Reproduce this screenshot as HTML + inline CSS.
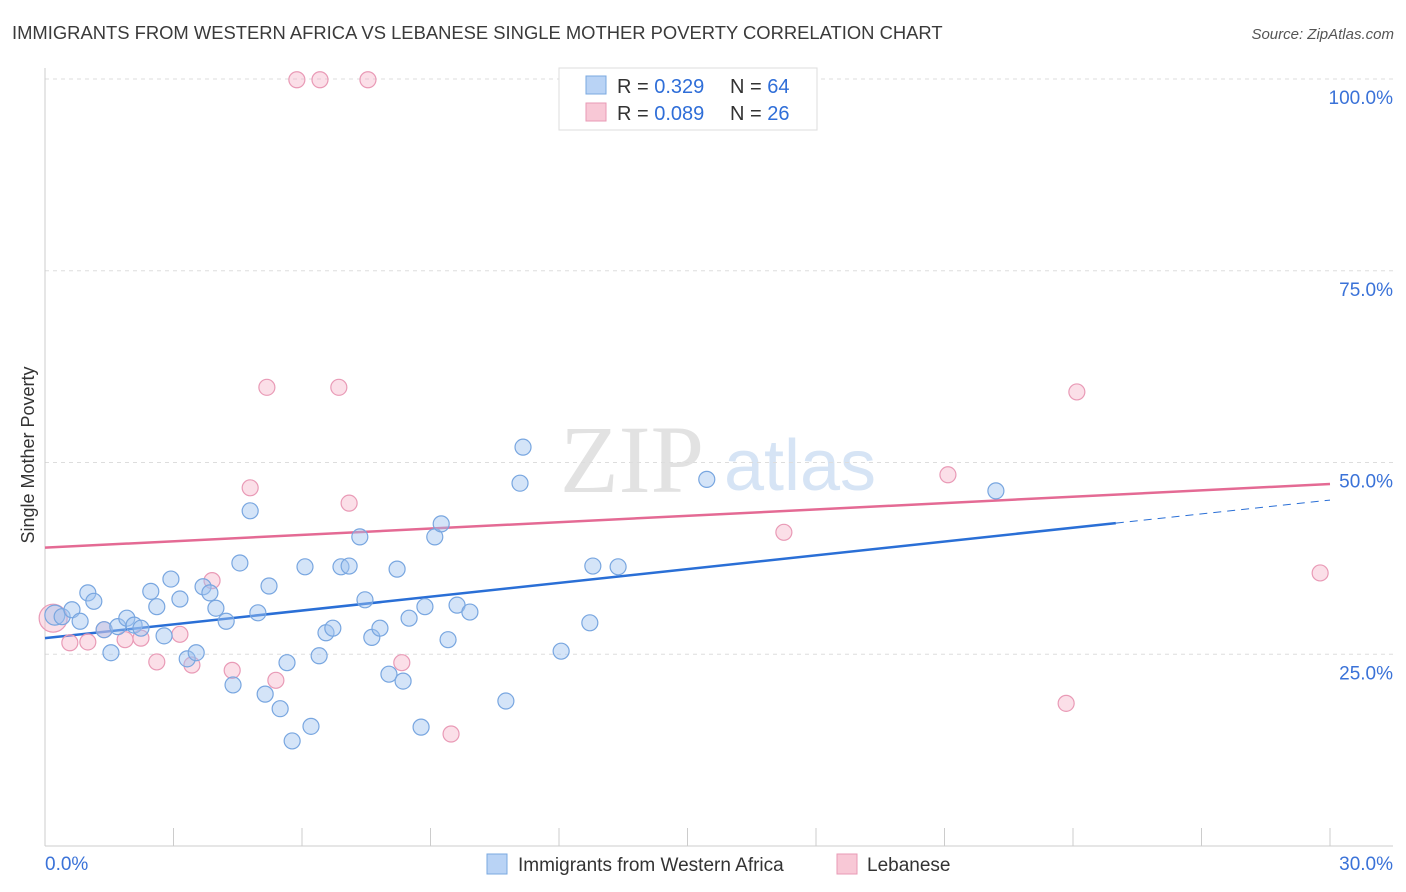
<!DOCTYPE html>
<html><head><meta charset="utf-8">
<style>
body{margin:0;background:#fff;font-family:"Liberation Sans",sans-serif;}
svg{display:block}
</style></head>
<body>
<svg id="chart" width="1406" height="892">
<text x="12" y="39" font-size="18.4" fill="#3a3a3a">IMMIGRANTS FROM WESTERN AFRICA VS LEBANESE SINGLE MOTHER POVERTY CORRELATION CHART</text>
<text x="1394" y="39" font-size="15" fill="#555" font-style="italic" text-anchor="end">Source: ZipAtlas.com</text>
<text transform="translate(34,455) rotate(-90)" font-size="18" fill="#333" text-anchor="middle">Single Mother Poverty</text>
<g>
<text x="632" y="492" font-size="96" font-family="Liberation Serif,serif" fill="#e2e2e2" text-anchor="middle">ZIP</text>
<text x="800" y="490" font-size="72" fill="#d6e4f5" text-anchor="middle">atlas</text>
</g>
<g id="grid"></g>
<g id="axes"></g>
<g id="trends"></g>
<g id="points"></g>
<g>
<rect x="559" y="68" width="258" height="62" fill="#fff" stroke="#ddd"/>
<rect x="586" y="76" width="20" height="18" fill="#b9d3f5" stroke="#7aa8e0"/>
<text x="617" y="93" font-size="20" fill="#333">R = <tspan fill="#2f6ed8">0.329</tspan></text>
<text x="730" y="93" font-size="20" fill="#333">N = <tspan fill="#2f6ed8">64</tspan></text>
<rect x="586" y="103" width="20" height="18" fill="#f8c8d6" stroke="#e89ab5"/>
<text x="617" y="120" font-size="20" fill="#333">R = <tspan fill="#2f6ed8">0.089</tspan></text>
<text x="730" y="120" font-size="20" fill="#333">N = <tspan fill="#2f6ed8">26</tspan></text>
</g>
<g>
<rect x="487" y="854" width="20" height="20" fill="#b9d3f5" stroke="#7aa8e0"/>
<text x="518" y="871" font-size="19" fill="#333">Immigrants from Western Africa</text>
<rect x="837" y="854" width="20" height="20" fill="#f8c8d6" stroke="#e89ab5"/>
<text x="867" y="871" font-size="19" fill="#333">Lebanese</text>
</g>
</svg>
<script>
const blueX=[0.23,0.40,0.63,0.82,1.00,1.14,1.38,1.54,1.70,1.91,2.08,2.24,2.47,2.61,2.78,2.94,3.15,3.32,3.53,3.69,3.85,3.99,4.23,4.39,4.55,4.79,4.97,5.14,5.23,5.49,5.65,5.77,6.07,6.21,6.40,6.56,6.72,6.91,7.10,7.35,7.47,7.63,7.82,8.03,8.22,8.36,8.50,8.78,8.87,9.10,9.25,9.41,9.62,9.92,10.76,11.09,11.16,12.05,12.72,12.79,13.38,15.45,22.20];
const blueY=[30.1,29.9,30.8,29.3,33.0,31.9,28.2,25.2,28.6,29.7,28.8,28.4,33.2,31.2,27.4,34.8,32.2,24.4,25.2,33.8,33.0,31.0,29.3,21.0,36.9,43.7,30.4,19.8,33.9,17.9,23.9,13.7,36.4,15.6,24.8,27.8,28.4,36.4,36.5,40.3,32.1,27.2,28.4,22.4,36.1,21.5,29.7,15.5,31.2,40.3,42.0,26.9,31.4,30.5,18.9,47.3,52.0,25.4,29.1,36.5,36.4,47.8,46.3];
const pinkX=[0.19,0.58,1.00,1.38,1.87,2.24,2.61,3.15,3.43,3.90,4.37,4.79,5.18,5.39,5.88,6.42,6.86,7.10,7.54,8.33,9.48,17.25,21.08,23.84,24.09,29.77];
const pinkY=[29.7,26.5,26.6,28.2,26.9,27.1,24.0,27.6,23.6,34.6,22.9,46.7,59.8,21.6,99.9,99.9,59.8,44.7,99.9,23.9,14.6,40.9,48.4,18.6,59.2,35.6];
const blueTrend=[27.1,45.1];
const pinkTrend=[38.9,47.2];
const yTicks=[25,50,75,100];
const yTickLabels=["25.0%","50.0%","75.0%","100.0%"];
const xTickLabels=["0.0%","30.0%"];
const NS="http://www.w3.org/2000/svg";
const X=v=>45+v/30*1285;
const Y=v=>846-v/100*767;
function mk(parent,tag,attrs){const e=document.createElementNS(NS,tag);for(const k in attrs)e.setAttribute(k,attrs[k]);document.getElementById(parent).appendChild(e);return e;}
yTicks.forEach((t,i)=>{
 const l=mk('grid','line',{x1:45,x2:1393,y1:Y(t),y2:Y(t),stroke:'#ddd','stroke-dasharray':'4,4'});
 
 
 const tx=mk('grid','text',{x:1393,y:Y(t)+25,'font-size':19,fill:'#3a72d8','text-anchor':'end'});
 tx.textContent=yTickLabels[i];
 
 
});
let a=mk('axes','line',{x1:45,x2:45,y1:68,y2:846,stroke:'#ccc'});


a=mk('axes','line',{x1:45,x2:1393,y1:846,y2:846,stroke:'#ccc'});


for(let i=0;i<=10;i++){
 const t=mk('axes','line',{x1:X(i*3),x2:X(i*3),y1:828,y2:846,stroke:'#ccc'});
 
 
}
[[0,'start',45],[30,'end',1393]].forEach((d,i)=>{
 const t=mk('axes','text',{x:d[2],y:870,'font-size':19,fill:'#3a72d8','text-anchor':d[1]});
 t.textContent=xTickLabels[i];
 
 
});
const bAt=x=>blueTrend[0]+(blueTrend[1]-blueTrend[0])*x/30;
let tl=mk('trends','line',{x1:X(0),y1:Y(bAt(0)),x2:X(25),y2:Y(bAt(25)),stroke:'#2a6fd6','stroke-width':2.5});


tl=mk('trends','line',{x1:X(25),y1:Y(bAt(25)),x2:X(30),y2:Y(bAt(30)),stroke:'#2a6fd6','stroke-width':1,'stroke-dasharray':'8,6'});


tl=mk('trends','line',{x1:X(0),y1:Y(pinkTrend[0]),x2:X(30),y2:Y(pinkTrend[1]),stroke:'#e46a94','stroke-width':2.5});


pinkX.forEach((x,i)=>{
 const c=mk('points','circle',{cx:X(x),cy:Y(pinkY[i]),r:i===0?14:8,fill:'rgba(244,176,198,0.4)',stroke:'#e99ab6','stroke-width':1.2});
 
 
});
blueX.forEach((x,i)=>{
 const c=mk('points','circle',{cx:X(x),cy:Y(blueY[i]),r:i===0?10:8,fill:'rgba(160,196,240,0.45)',stroke:'#78a6e0','stroke-width':1.2});
 
 
});
</script>
</body></html>
